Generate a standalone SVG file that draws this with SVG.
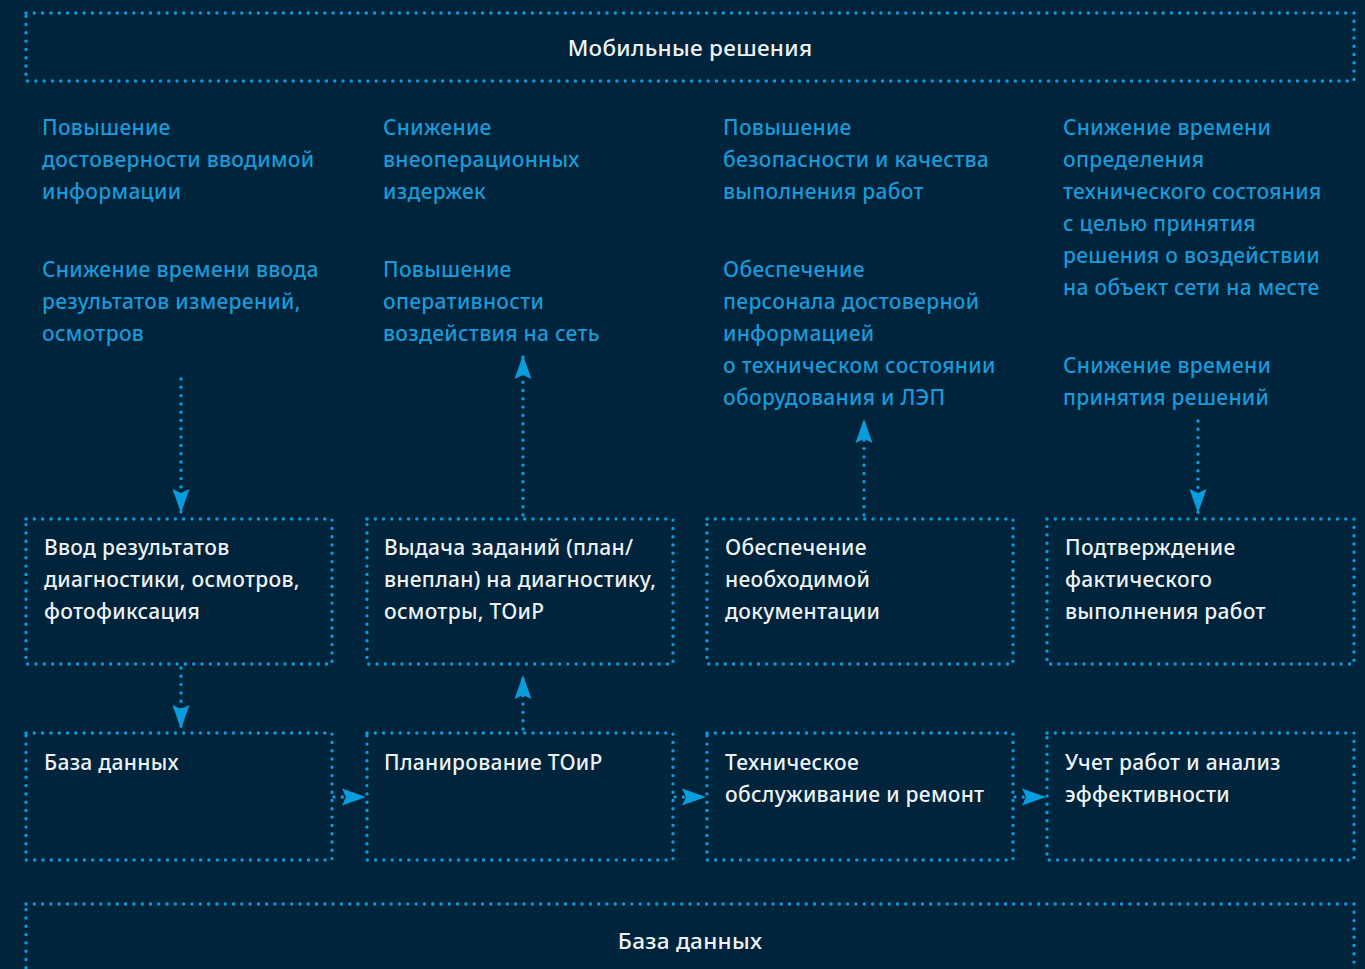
<svg xmlns="http://www.w3.org/2000/svg" width="1365" height="969" viewBox="0 0 1365 969">
<defs>
<style>
.box{fill:none;stroke:#0a9ddd;stroke-width:3.4;stroke-dasharray:0 8.3;stroke-linecap:round}
.con{fill:none;stroke:#0a9ddd;stroke-width:3.4;stroke-dasharray:0 8.3;stroke-linecap:round}
.w{font-family:"Noto Sans","Open Sans",sans-serif;font-size:21px;font-weight:500;fill:#eef2f5;letter-spacing:0.3px}
.t{font-size:22.5px}
.b{font-family:"Noto Sans","Open Sans",sans-serif;font-size:21px;font-weight:500;fill:#1a9ad8;letter-spacing:0.3px}
</style>
<marker id="ah" markerUnits="userSpaceOnUse" markerWidth="26" markerHeight="20" viewBox="0 0 26 20" refX="24" refY="10" orient="auto">
<path d="M0,1.5 L24,10 L0,18.5 L4,10 Z" fill="#0a9ddd"/>
</marker>
</defs>
<rect width="1365" height="969" fill="#00243b"/>
<g id="mobile">
<rect class="box" x="26" y="13" width="1328" height="68"/>
<text class="w t" x="690" y="56" text-anchor="middle">Мобильные решения</text>
</g>
<g id="goals1">
<text class="b" x="42" y="135">Повышение</text>
<text class="b" x="42" y="167">достоверности вводимой</text>
<text class="b" x="42" y="199">информации</text>
<text class="b" x="42" y="277">Снижение времени ввода</text>
<text class="b" x="42" y="309">результатов измерений,</text>
<text class="b" x="42" y="341">осмотров</text>
</g>
<g id="goals2">
<text class="b" x="383" y="135">Снижение</text>
<text class="b" x="383" y="167">внеоперационных</text>
<text class="b" x="383" y="199">издержек</text>
<text class="b" x="383" y="277">Повышение</text>
<text class="b" x="383" y="309">оперативности</text>
<text class="b" x="383" y="341">воздействия на сеть</text>
</g>
<g id="goals3">
<text class="b" x="723" y="135">Повышение</text>
<text class="b" x="723" y="167">безопасности и качества</text>
<text class="b" x="723" y="199">выполнения работ</text>
<text class="b" x="723" y="277">Обеспечение</text>
<text class="b" x="723" y="309">персонала достоверной</text>
<text class="b" x="723" y="341">информацией</text>
<text class="b" x="723" y="373">о техническом состоянии</text>
<text class="b" x="723" y="405">оборудования и ЛЭП</text>
</g>
<g id="goals4">
<text class="b" x="1063" y="135">Снижение времени</text>
<text class="b" x="1063" y="167">определения</text>
<text class="b" x="1063" y="199">технического состояния</text>
<text class="b" x="1063" y="231">с целью принятия</text>
<text class="b" x="1063" y="263">решения о воздействии</text>
<text class="b" x="1063" y="295">на объект сети на месте</text>
<text class="b" x="1063" y="373">Снижение времени</text>
<text class="b" x="1063" y="405">принятия решений</text>
</g>
<g id="input">
<rect class="box" x="26" y="519" width="306" height="145"/>
<text class="w" x="44" y="555">Ввод результатов</text>
<text class="w" x="44" y="587">диагностики, осмотров,</text>
<text class="w" x="44" y="619">фотофиксация</text>
</g>
<g id="tasks">
<rect class="box" x="367" y="519" width="306" height="145"/>
<text class="w" x="384" y="555">Выдача заданий (план/</text>
<text class="w" x="384" y="587">внеплан) на диагностику,</text>
<text class="w" x="384" y="619">осмотры, ТОиР</text>
</g>
<g id="docs">
<rect class="box" x="707" y="519" width="306" height="145"/>
<text class="w" x="725" y="555">Обеспечение</text>
<text class="w" x="725" y="587">необходимой</text>
<text class="w" x="725" y="619">документации</text>
</g>
<g id="confirm">
<rect class="box" x="1047" y="519" width="307" height="145"/>
<text class="w" x="1065" y="555">Подтверждение</text>
<text class="w" x="1065" y="587">фактического</text>
<text class="w" x="1065" y="619">выполнения работ</text>
</g>
<g id="db1">
<rect class="box" x="26" y="733" width="306" height="127"/>
<text class="w" x="44" y="770">База данных</text>
</g>
<g id="plan">
<rect class="box" x="367" y="733" width="306" height="127"/>
<text class="w" x="384" y="770">Планирование ТОиР</text>
</g>
<g id="maint">
<rect class="box" x="707" y="733" width="306" height="127"/>
<text class="w" x="725" y="770">Техническое</text>
<text class="w" x="725" y="802">обслуживание и ремонт</text>
</g>
<g id="analysis">
<rect class="box" x="1047" y="733" width="307" height="127"/>
<text class="w" x="1065" y="770">Учет работ и анализ</text>
<text class="w" x="1065" y="802">эффективности</text>
</g>
<g id="dbmain">
<rect class="box" x="26" y="904" width="1328" height="90"/>
<text class="w t" x="690" y="949" text-anchor="middle">База данных</text>
</g>
<g id="connectors">
<path class="con" d="M181,379 V513" marker-end="url(#ah)"/>
<path class="con" d="M523,515 V355" marker-end="url(#ah)"/>
<path class="con" d="M864,515 V419" marker-end="url(#ah)"/>
<path class="con" d="M1198,421 V513" marker-end="url(#ah)"/>
<path class="con" d="M181,668 V729" marker-end="url(#ah)"/>
<path class="con" d="M523,729 V675" marker-end="url(#ah)"/>
<path class="con" d="M334,797 H366" marker-end="url(#ah)"/>
<path class="con" d="M675,797 H706" marker-end="url(#ah)"/>
<path class="con" d="M1015,797 H1046" marker-end="url(#ah)"/>
</g>
</svg>
